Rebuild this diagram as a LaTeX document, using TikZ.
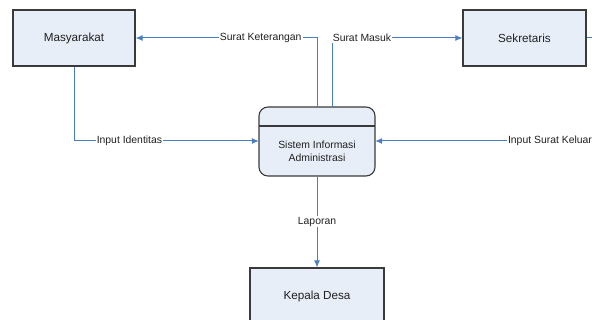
\documentclass[tikz,border=0pt]{standalone}
\usepackage{fontspec}
\setmainfont{Liberation Sans}
\usetikzlibrary{arrows.meta,calc}
\definecolor{boxfill}{HTML}{E8EEF8}
\definecolor{boxline}{HTML}{3A3A3A}
\definecolor{flow}{HTML}{4A7EC4}
\definecolor{txt}{HTML}{202020}
\tikzset{
  ent/.style={draw=boxline, line width=1.1pt, fill=boxfill, minimum width=122pt, minimum height=56pt, inner sep=0pt, font=\fontsize{11.7pt}{14pt}\selectfont, text=txt},
  flowline/.style={draw=flow, line width=1pt},
  flowarrow/.style={flowline, -{Latex[length=7pt,width=6pt]}},
  lbl/.style={fill=white, inner sep=1pt, font=\fontsize{10.4pt}{12pt}\selectfont, text=txt},
}
\begin{document}
\begin{tikzpicture}[x=1pt,y=-1pt]
\useasboundingbox (0,0) rectangle (592,320);
% entities
\node[ent] (mas) at (74,38) {Masyarakat};
\node[ent, minimum width=123pt] (sek) at (524.5,38) {Sekretaris};
\node[ent, minimum width=134pt] (kep) at (317,296) {Kepala Desa};
% process
\path[draw=boxline, line width=1.1pt, fill=boxfill, rounded corners=9pt] (259,107) rectangle (375,176);
\draw[boxline, line width=1.1pt] (259,126) -- (375,126);
\node[inner sep=0pt, minimum width=116pt, minimum height=69pt] (sis) at (317,141.5) {};
\node[align=center, font=\fontsize{10.4pt}{13pt}\selectfont, text=txt] (sistxt) at (317,151) {Sistem Informasi\\Administrasi};
% coordinates
\coordinate (sk1) at (317,107);
\coordinate (sk2) at (317,38);
\coordinate (sm1) at (332,107);
\coordinate (sm2) at (332,38);
\coordinate (ii) at (74,141);
\coordinate (isk) at (640,141);
\coordinate (sekr) at (640,38);
% flows
\draw[flowarrow] (sk1) -- (sk2) -- node[lbl, pos=0.31] {Surat Keterangan} (mas.east);
\draw[flowarrow] (sm1) -- (sm2) -- node[lbl, pos=0.23] {Surat Masuk} (sek.west);
\draw[flowarrow] (mas.south) -- (ii) -- node[lbl, pos=0.30] {Input Identitas} (sis.west |- ii);
\draw[flowarrow] (isk) -- node[lbl, pos=0.34] {Input Surat Keluar} (sis.east |- isk);
\draw[flowline] (sek.east) -- (sekr);
\draw[flowarrow] (sis.south) -- node[lbl, pos=0.5] {Laporan} (kep.north);
\end{tikzpicture}
\end{document}
